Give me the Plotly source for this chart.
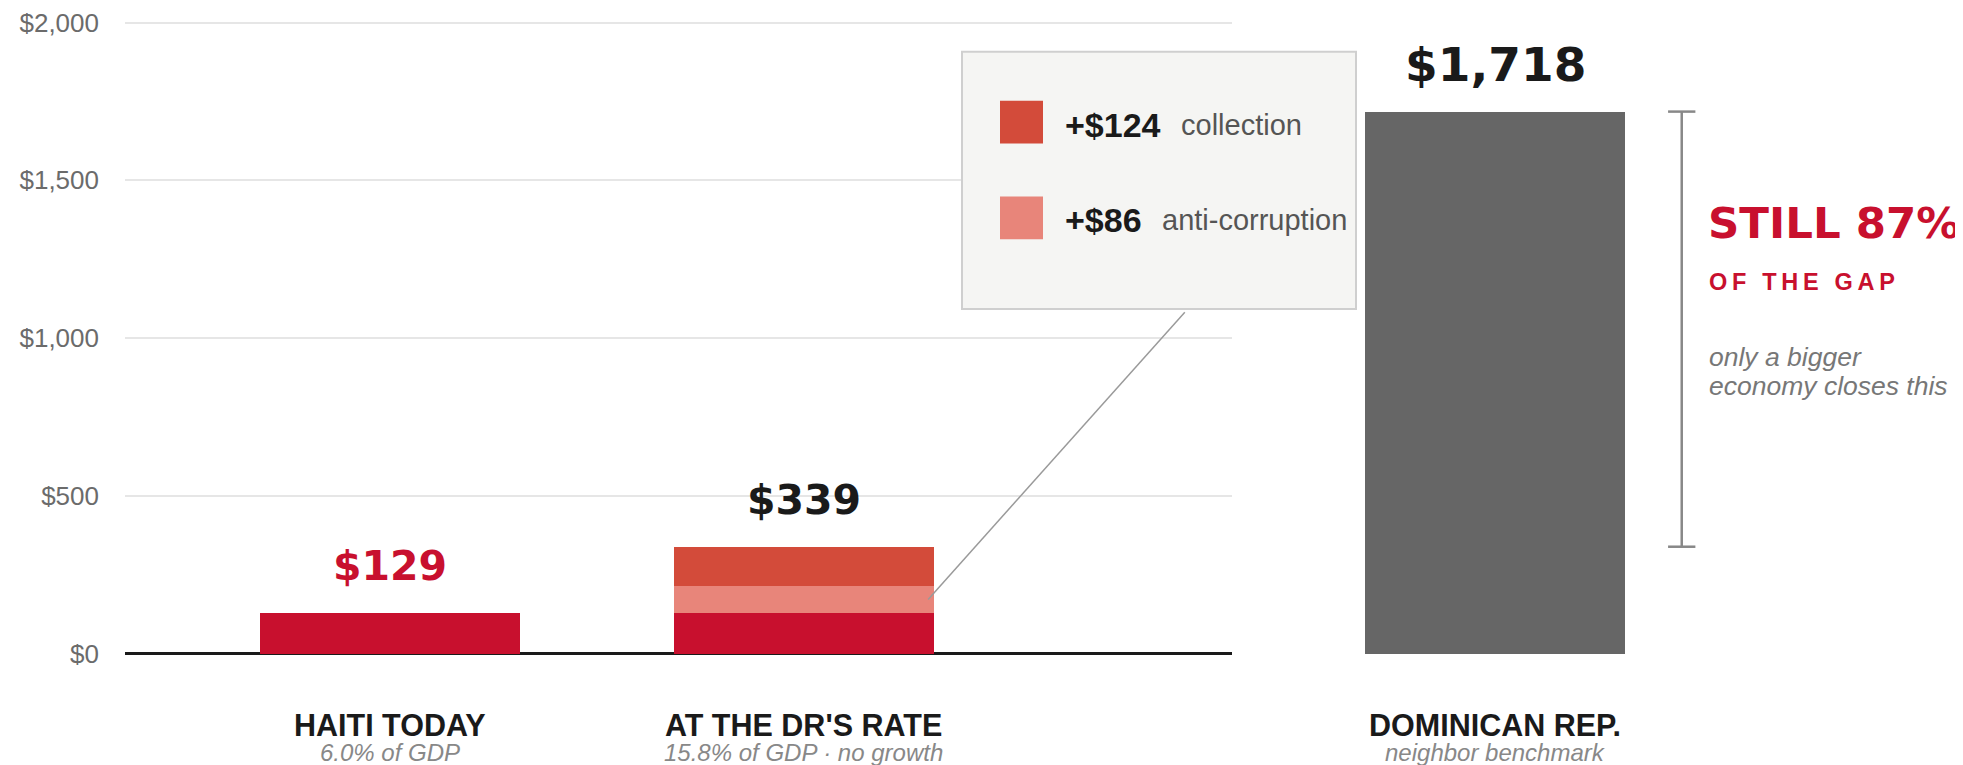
import plotly.graph_objects as go

# ---------------- data ----------------
categories = ["HAITI TODAY", "AT THE DR'S RATE"]
sublabels = ["6.0% of GDP", "15.8% of GDP · no growth"]
base_values = [129, 129]
anti_corruption = [0, 86]
collection = [0, 124]
totals = [129, 339]

dr_category = ["DOMINICAN REP."]
dr_sublabel = ["neighbor benchmark"]
dr_values = [1718]

tick_vals = [0, 500, 1000, 1500, 2000]
tick_text = ["$0", "$500", "$1,000", "$1,500", "$2,000"]

gap_share = "87%"

# ---------------- style ----------------
OFF = 8  # page body margin
W, H = 1963 - OFF, 765 - OFF
ML, MR, MT, MB = 125 - OFF, 0, 0, 105
PLOT_W = W - ML - MR
PLOT_H = H - MT - MB
CRIMSON = "#c8102e"
COLL = "#d34b3a"
ANTI = "#e8857a"
GREY = "#666666"
DARK = "#1a1a1a"
SANS = "Liberation Sans, Arial, sans-serif"
HEAVY = "DejaVu Sans, sans-serif"
BAR_W = 0.628


def pxx(p):
    """page x pixel -> paper fraction"""
    return (p - OFF - ML) / PLOT_W


def pxy(p):
    """page y pixel -> paper fraction"""
    return (H - MB - (p - OFF)) / PLOT_H


X1_END = pxx(1232)

fig = go.Figure()
fig.add_bar(x=categories, y=base_values, marker_color=CRIMSON, width=BAR_W,
            marker_line_width=0, xaxis="x", yaxis="y", name="base")
fig.add_bar(x=categories, y=anti_corruption, marker_color=ANTI, width=BAR_W,
            marker_line_width=0, xaxis="x", yaxis="y", name="anti-corruption")
fig.add_bar(x=categories, y=collection, marker_color=COLL, width=BAR_W,
            marker_line_width=0, xaxis="x", yaxis="y", name="collection")
fig.add_bar(x=dr_category, y=dr_values, marker_color=GREY, width=BAR_W,
            marker_line_width=0, xaxis="x2", yaxis="y2", name="DR")

ann = []
# value labels
label_colors = [CRIMSON, DARK]
for c, t, col in zip(categories, totals, label_colors):
    ann.append(dict(x=c, y=t, xref="x", yref="y", text=f"<b>${t:,}</b>",
                    showarrow=False, yanchor="middle", yshift=47,
                    font=dict(family=HEAVY, size=41, color=col)))
ann.append(dict(x=dr_category[0], y=dr_values[0], xref="x2", yref="y2",
                text=f"<b>${dr_values[0]:,}</b>", showarrow=False,
                yanchor="middle", yshift=47,
                font=dict(family=HEAVY, size=47, color=DARK)))

# category labels
for xr, cats, subs in (("x", categories, sublabels), ("x2", dr_category, dr_sublabel)):
    yr = "y" if xr == "x" else "y2"
    for c, s in zip(cats, subs):
        ann.append(dict(x=c, y=0, xref=xr, yref=yr, text=f"<b>{c}</b>",
                        showarrow=False, yanchor="middle", yshift=-71,
                        font=dict(family=SANS, size=30.5, color=DARK)))
        ann.append(dict(x=c, y=0, xref=xr, yref=yr, text=f"<i>{s}</i>",
                        showarrow=False, yanchor="middle", yshift=-99,
                        font=dict(family=SANS, size=24, color="#888888")))

# legend box texts
leg = [("+$" + str(collection[1]), "collection", 123),
       ("+$" + str(anti_corruption[1]), "anti-corruption", 219)]
name_x = [1179, 1160]
for (val, name, yc), nx in zip(leg, name_x):
    ann.append(dict(x=pxx(1063), y=pxy(yc), xref="paper", yref="paper",
                    text=f"<b>{val}</b>", showarrow=False, xanchor="left",
                    yanchor="middle", font=dict(family=SANS, size=34, color=DARK)))
    ann.append(dict(x=pxx(nx), y=pxy(yc), xref="paper", yref="paper",
                    text=name, showarrow=False, xanchor="left",
                    yanchor="middle", font=dict(family=SANS, size=29, color="#555555")))

# right side note
ann.append(dict(x=pxx(1706), y=pxy(222), xref="paper", yref="paper",
                text=f"<b>STILL {gap_share}</b>", showarrow=False, xanchor="left",
                yanchor="middle", font=dict(family=HEAVY, size=43.5, color=CRIMSON)))
ann.append(dict(x=pxx(1707), y=pxy(281), xref="paper", yref="paper",
                text="<b>" + "\u2009".join("OF THE GAP") + "</b>", showarrow=False,
                xanchor="left", yanchor="middle",
                font=dict(family=SANS, size=23.5, color=CRIMSON)))
ann.append(dict(x=pxx(1707), y=pxy(356), xref="paper", yref="paper",
                text="<i>only a bigger</i>", showarrow=False, xanchor="left",
                yanchor="middle", font=dict(family=SANS, size=26.5, color="#777777")))
ann.append(dict(x=pxx(1707), y=pxy(385), xref="paper", yref="paper",
                text="<i>economy closes this</i>", showarrow=False, xanchor="left",
                yanchor="middle", font=dict(family=SANS, size=26.5, color="#777777")))

shapes = []
# legend box
shapes.append(dict(type="rect", xref="paper", yref="paper",
                   x0=pxx(962), x1=pxx(1356), y0=pxy(308), y1=pxy(50),
                   fillcolor="#f5f5f3", line=dict(color="#cfcfcf", width=2), layer="above"))
for col, (y0, y1) in ((COLL, (99, 142)), (ANTI, (195, 238))):
    shapes.append(dict(type="rect", xref="paper", yref="paper",
                       x0=pxx(1000), x1=pxx(1043), y0=pxy(y1), y1=pxy(y0),
                       fillcolor=col, line=dict(width=0), layer="above"))
# connector from anti-corruption slice to box
shapes.append(dict(type="line", xref="x", yref="y", x0=1.30,
                   y0=base_values[1] + anti_corruption[1] / 2, x1=1.92, y1=1082,
                   line=dict(color="#9a9a9a", width=1.5)))
# gap bracket
bx, cap = 0.451, 0.033
shapes.append(dict(type="line", xref="x2", yref="y2", x0=bx, x1=bx,
                   y0=totals[1], y1=dr_values[0], line=dict(color="#888888", width=2.5)))
for yv in (totals[1], dr_values[0]):
    shapes.append(dict(type="line", xref="x2", yref="y2", x0=bx - cap, x1=bx + cap,
                       y0=yv, y1=yv, line=dict(color="#888888", width=2.5)))

fig.update_layout(
    width=W, height=H,
    margin=dict(l=ML, r=MR, t=MT, b=MB),
    paper_bgcolor="white", plot_bgcolor="white",
    barmode="stack", showlegend=False, bargap=0,
    font=dict(family=SANS),
    xaxis=dict(domain=[0, X1_END], range=[-0.640, 2.034], showgrid=False,
               zeroline=False, showticklabels=False, showline=False),
    xaxis2=dict(domain=[X1_END, 1], range=[-0.6353, 1.1304], showgrid=False,
                zeroline=False, showticklabels=False, showline=False, anchor="y2"),
    yaxis=dict(range=[-20, 2040], tickvals=tick_vals, ticktext=tick_text,
               showgrid=True, gridcolor="#e6e6e6", gridwidth=1.5,
               zeroline=True, zerolinecolor=DARK, zerolinewidth=3,
               showline=False, ticks="", ticklabelstandoff=25,
               ticklabeloverflow="allow",
               tickfont=dict(family=SANS, size=26, color="#6b6b6b")),
    yaxis2=dict(range=[-20, 2040], anchor="x2", showgrid=False, zeroline=False,
                showticklabels=False, showline=False),
    annotations=ann, shapes=shapes,
)

fig.write_html("out.html")
